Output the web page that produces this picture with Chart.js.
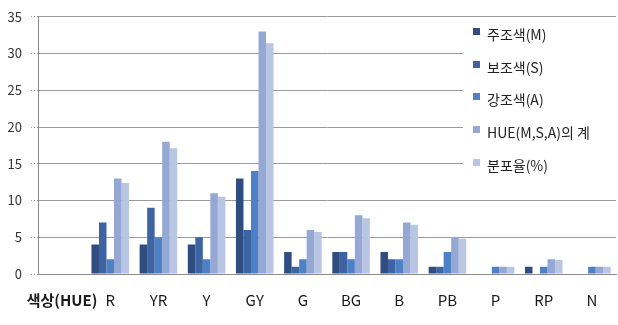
<!DOCTYPE html>
<html>
<head>
<meta charset="utf-8">
<script src="https://cdn.jsdelivr.net/npm/chart.js@4/dist/chart.umd.min.js"></script>
<style>
  html, body { margin: 0; padding: 0; background: #fff; }
  #wrap { width: 618px; height: 325px; position: relative; }
</style>
</head>
<body>
<div id="wrap"><canvas id="chart"></canvas></div>
<script>
const categories = ['색상(HUE)', 'R', 'YR', 'Y', 'GY', 'G', 'BG', 'B', 'PB', 'P', 'RP', 'N'];
const mainColor = [null, 4, 4, 4, 13, 3, 3, 3, 1, 0, 1, 0];
const subColor = [null, 7, 9, 5, 6, 1, 3, 2, 1, 0, 0, 0];
const accentColor = [null, 2, 5, 2, 14, 2, 2, 2, 3, 1, 1, 1];
const hueTotal = [null, 13, 18, 11, 33, 6, 8, 7, 5, 1, 2, 1];
const distribution = [null, 12.4, 17.1, 10.5, 31.4, 5.7, 7.6, 6.7, 4.8, 1.0, 1.9, 1.0];
const seriesNames = ['주조색(M)', '보조색(S)', '강조색(A)', 'HUE(M,S,A)의 계', '분포율(%)'];
const yTicks = [0, 5, 10, 15, 20, 25, 30, 35];

const colors = ['#2f4d80', '#3d63a2', '#4d80c4', '#95a8d4', '#b9c6e3'];
const font = '"Noto Sans CJK KR", "Noto Sans", sans-serif';

// legend drawn over the plot area, like the original
const overlayLegend = {
  id: 'overlayLegend',
  afterDraw(chart) {
    const ctx = chart.ctx;
    ctx.save();
    ctx.fillStyle = '#fff';
    ctx.fillRect(463, 19, 155, 167);
    const rows = [35, 68, 100, 133, 166];
    ctx.font = '14px ' + font;
    ctx.textBaseline = 'middle';
    chart.data.datasets.forEach((ds, i) => {
      ctx.fillStyle = ds.backgroundColor;
      ctx.fillRect(473, rows[i] - 7, 7, 7);
      ctx.fillStyle = '#222';
      ctx.fillText(ds.label, 487, rows[i]);
    });
    ctx.restore();
  }
};

const seriesData = [mainColor, subColor, accentColor, hueTotal, distribution];

new Chart(document.getElementById('chart'), {
  type: 'bar',
  data: {
    labels: categories,
    datasets: seriesData.map((d, i) => ({
      label: seriesNames[i],
      data: d,
      backgroundColor: colors[i],
      borderWidth: 0,
      categoryPercentage: 0.78,
      barPercentage: 1.0
    }))
  },
  options: {
    responsive: true,
    maintainAspectRatio: false,
    animation: false,
    layout: { padding: { top: 14, right: 2, left: 0, bottom: 0 } },
    plugins: {
      legend: { display: false },
      tooltip: { enabled: false }
    },
    scales: {
      x: {
        grid: { display: false, drawTicks: false },
        border: { color: '#8c8c8c', width: 1 },
        ticks: {
          padding: 17,
          color: '#1a1a1a',
          maxRotation: 0,
          autoSkip: false,
          font: (c) => ({ family: font, size: 15, weight: c.index === 0 ? 'bold' : 'normal' })
        },
        afterFit: (scale) => { scale.height = 51; }
      },
      y: {
        min: 0,
        max: 35,
        afterBuildTicks: (scale) => { scale.ticks = yTicks.map(v => ({ value: v })); },
        grid: {
          color: '#9a9a9a',
          borderDash: [1, 2],
          tickLength: 7,
          tickBorderDash: [1, 2],
          tickColor: '#9a9a9a'
        },
        border: { color: '#8c8c8c', width: 1 },
        ticks: {
          padding: 9,
          color: '#333',
          font: { family: font, size: 13 }
        },
        afterFit: (scale) => { scale.width = 38; }
      }
    }
  },
  plugins: [overlayLegend]
});
</script>
</body>
</html>
